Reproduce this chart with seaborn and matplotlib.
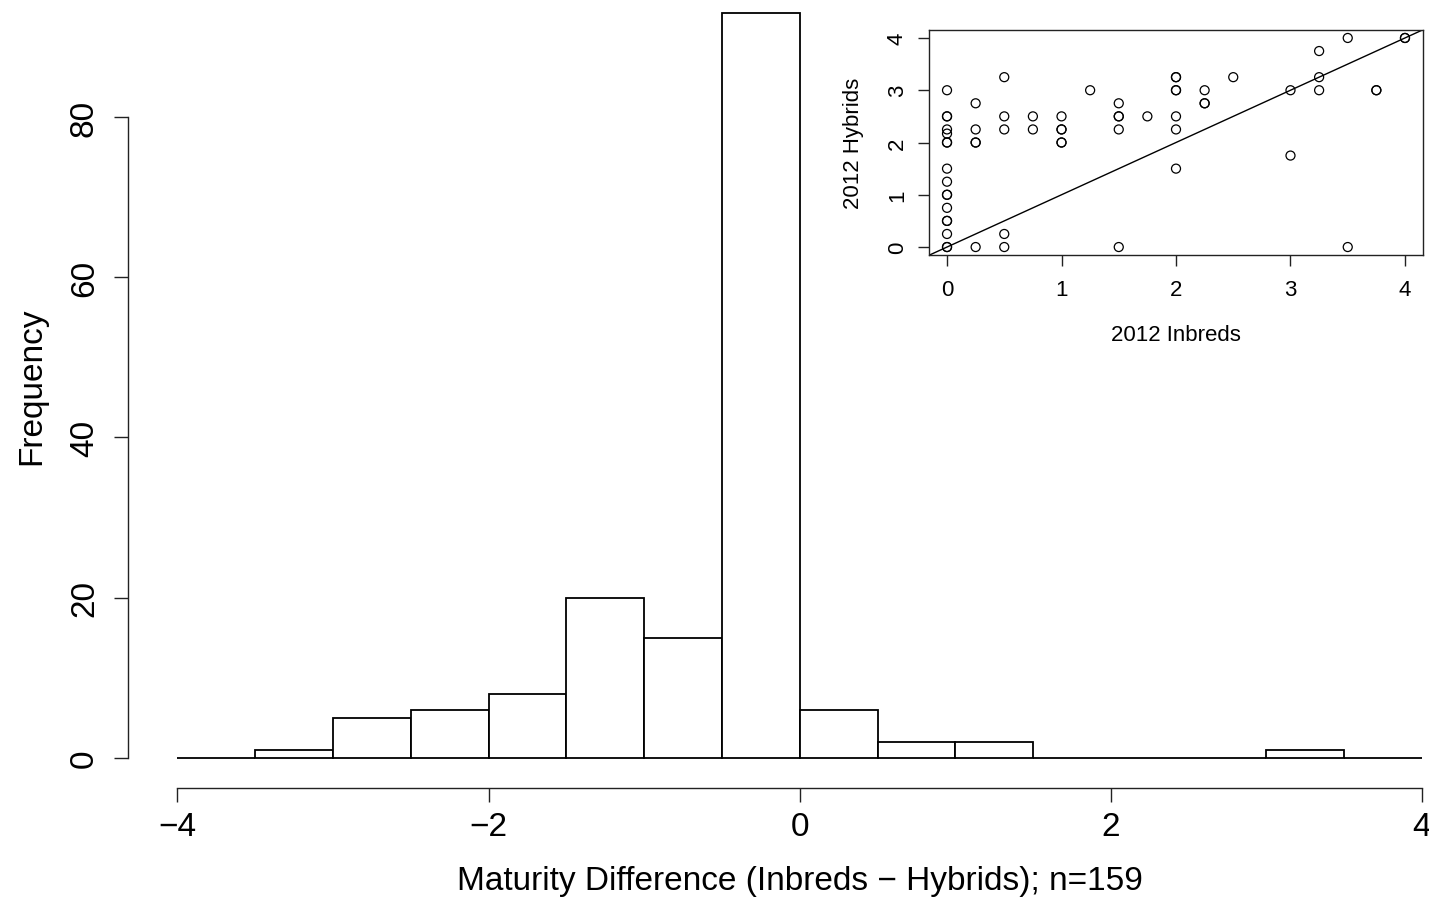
import numpy as np
import pandas as pd
import matplotlib
matplotlib.use("Agg")
import matplotlib.pyplot as plt
import seaborn as sns

# ---- Data ----
bin_edges = [-4.0, -3.5, -3.0, -2.5, -2.0, -1.5, -1.0, -0.5, 0.0, 0.5, 1.0, 1.5, 2.0, 2.5, 3.0, 3.5, 4.0]
bin_counts = [0, 1, 5, 6, 8, 20, 15, 93, 6, 2, 2, 0, 0, 0, 1, 0]

inbreds_2012 = [0]*17 + [0.25]*5 + [0.5]*5 + [0.75]*2 + [1]*5 + [1.25] + [1.5]*5 + [1.75] \
    + [2]*7 + [2.25]*3 + [2.5] + [3]*2 + [3.25]*3 + [3.5]*2 + [3.75]*2 + [4]*2
hybrids_2012 = [3, 2.5, 2.5, 2.25, 2.17, 2, 2, 1.5, 1.25, 1, 1, 0.75, 0.5, 0.5, 0.25, 0, 0,
                2.75, 2.25, 2, 2, 0,
                3.25, 2.5, 2.25, 0.25, 0,
                2.5, 2.25,
                2.5, 2.25, 2.25, 2, 2,
                3,
                2.75, 2.5, 2.5, 2.25, 0,
                2.5,
                3.25, 3.25, 3, 3, 2.5, 2.25, 1.5,
                3, 2.75, 2.75,
                3.25,
                3, 1.75,
                3.75, 3.25, 3,
                4, 0,
                3, 3,
                4, 4]

main_xticks = [-4, -2, 0, 2, 4]
main_yticks = [0, 20, 40, 60, 80]
inset_ticks = [0, 1, 2, 3, 4]

sns.set_style("ticks")
plt.rcParams['font.family'] = ['Liberation Sans', 'DejaVu Sans']
plt.rcParams['axes.unicode_minus'] = True
plt.rcParams['text.color'] = 'black'
plt.rcParams['axes.labelcolor'] = 'black'

W, H = 1429, 903
fig = plt.figure(figsize=(W / 100, H / 100), dpi=100)

# main axes (R-style plot region extends beyond the figure on right/top)
mx0, mx1 = 127.7, 1471.8
my_bot, my_top = 788.8, -16.0
ax = fig.add_axes([mx0 / W, (H - my_bot) / H, (mx1 - mx0) / W, (my_bot - my_top) / H])

mids = [(a + b) / 2 for a, b in zip(bin_edges[:-1], bin_edges[1:])]
hist_df = pd.DataFrame({"mid": mids, "count": bin_counts})
sns.histplot(data=hist_df, x="mid", weights="count", bins=bin_edges, ax=ax,
             color="white", edgecolor="black", linewidth=1.3, alpha=1, fill=True)

ax.set_xlim(-4.32, 4.32)
ax.set_ylim(-3.72, 96.72)
ax.set_xticks(main_xticks)
ax.set_yticks(main_yticks)
ax.set_xticklabels([f"{t:d}".replace("-", "\u2212") for t in main_xticks])
ax.set_yticklabels([str(t) for t in main_yticks])
for s in ["top", "right"]:
    ax.spines[s].set_visible(False)
ax.spines["left"].set_bounds(0, 80)
ax.spines["bottom"].set_bounds(-4, 4)
for s in ["left", "bottom"]:
    ax.spines[s].set_linewidth(1.0)
    ax.spines[s].set_color("#222222")
ax.tick_params(axis="both", direction="out", length=10, width=1.0, color="#222222",
               labelsize=24, labelcolor="black", pad=7)
ax.tick_params(axis="y", labelrotation=90, pad=10)
for lab in ax.get_yticklabels():
    lab.set_va("center")
ax.set_xlabel("Maturity Difference (Inbreds \u2212 Hybrids); n=159", fontsize=24)
ax.set_ylabel("Frequency", fontsize=24)
ax.xaxis.set_label_coords(0.5, (my_bot - 882) / (my_bot - my_top))
ax.xaxis.label.set_va("center")
ax.yaxis.set_label_coords((32 - mx0) / (mx1 - mx0), 0.5)
ax.yaxis.label.set_va("center")
ax.grid(False)

# inset axes
ix0, ix1 = 928.7, 1423.3
iy_top, iy_bot = 30.6, 256.4
axi = fig.add_axes([ix0 / W, (H - iy_bot) / H, (ix1 - ix0) / W, (iy_bot - iy_top) / H])
axi.set_facecolor("white")
sc_df = pd.DataFrame({"inb": inbreds_2012, "hyb": hybrids_2012})
sns.scatterplot(data=sc_df, x="inb", y="hyb", ax=axi, color="black",
                facecolor="none", edgecolor="black", s=42, linewidth=0.9, marker="o")
axi.axline((0, 0), slope=1, color="black", linewidth=1.0)
axi.set_xlim(-0.16, 4.16)
axi.set_ylim(-0.16, 4.16)
axi.set_xticks(inset_ticks)
axi.set_yticks(inset_ticks)
for s in axi.spines.values():
    s.set_visible(True)
    s.set_linewidth(1.0)
    s.set_color("#222222")
axi.tick_params(axis="both", direction="out", length=8, width=1.0, color="#222222",
                labelsize=16, labelcolor="black", pad=9)
axi.tick_params(axis="y", labelrotation=90, pad=7)
for lab in axi.get_yticklabels():
    lab.set_va("center")
axi.set_xlabel("2012 Inbreds", fontsize=16)
axi.set_ylabel("2012 Hybrids", fontsize=16)
axi.xaxis.set_label_coords(0.5, (iy_bot - 336) / (iy_bot - iy_top))
axi.xaxis.label.set_va("center")
axi.yaxis.set_label_coords((853 - ix0) / (ix1 - ix0), 0.5)
axi.yaxis.label.set_va("center")
axi.grid(False)

fig.savefig("out.png", dpi=100)
